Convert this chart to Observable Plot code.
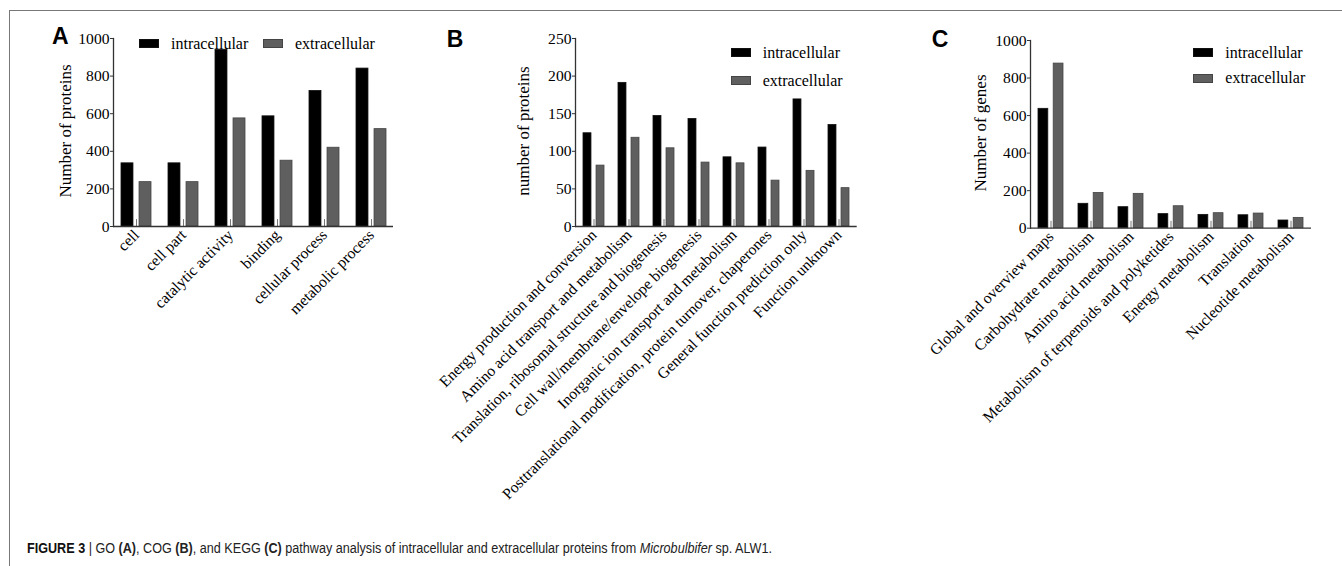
<!DOCTYPE html>
<html><head><meta charset="utf-8">
<script src="https://cdn.jsdelivr.net/npm/d3@7"></script>
<script src="https://cdn.jsdelivr.net/npm/@observablehq/plot@0.6"></script>
<style>
html,body{margin:0;padding:0;background:#fff;}
#root{position:relative;width:1342px;height:566px;overflow:hidden;font-family:"Liberation Serif","Times New Roman",serif;color:#000;}
.frame{position:absolute;left:9px;top:10px;right:-2px;bottom:-2px;border-top:1px solid #777;border-left:1px solid #777;pointer-events:none;}
.panel{position:absolute;top:0;}
.plabel{position:absolute;font:bold 23px "Liberation Sans",Arial,sans-serif;line-height:1;}
.ylab{position:absolute;font-size:17px;line-height:1;white-space:nowrap;transform:translate(-50%,-50%) rotate(-90deg);}
.leg{position:absolute;font-size:16px;line-height:16px;height:16px;white-space:nowrap;display:flex;align-items:center;}
.sw{display:inline-block;width:20px;height:9px;margin-right:12px;box-sizing:border-box;}
.caption{position:absolute;left:27px;top:541px;font:14px "Liberation Sans",Arial,sans-serif;line-height:1;white-space:nowrap;color:#222;transform-origin:0 0;}
</style>
</head><body>
<div id="root"></div>
<script>
// ---- data ----
const seriesNames = ["intracellular", "extracellular"];

const goCategories = ["cell", "cell part", "catalytic activity", "binding", "cellular process", "metabolic process"];
const goIntra = [336, 336, 940, 586, 721, 840];
const goExtra = [236, 236, 575, 350, 419, 518];
const goTicks = [0, 200, 400, 600, 800, 1000];

const cogCategories = [
  "Energy production and conversion",
  "Amino acid transport and metabolism",
  "Translation, ribosomal structure and biogenesis",
  "Cell wall/membrane/envelope biogenesis",
  "Inorganic ion transport and metabolism",
  "Posttranslational modification, protein turnover, chaperones",
  "General function prediction only",
  "Function unknown"
];
const cogIntra = [124, 191, 147, 143, 92, 105, 169, 135];
const cogExtra = [81, 118, 104, 85, 84, 61, 74, 51];
const cogTicks = [0, 50, 100, 150, 200, 250];

const keggCategories = [
  "Global and overview maps",
  "Carbohydrate metabolism",
  "Amino acid metabolism",
  "Metabolism of terpenoids and polyketides",
  "Energy metabolism",
  "Translation",
  "Nucleotide metabolism"
];
const keggIntra = [636, 130, 112, 75, 71, 69, 41];
const keggExtra = [877, 188, 183, 117, 80, 78, 55];
const keggTicks = [0, 200, 400, 600, 800, 1000];

const colors = {intracellular: "#000000", extracellular: "#5f5f5f"};

// ---- layout ----
const root = document.getElementById("root");
const tickShape = {draw(ctx, l) { ctx.moveTo(0, 0); ctx.lineTo(0, -l); }};

function makePanel(cfg) {
  const rows = cfg.cats.map((c, i) => ({cat: c, intra: cfg.intra[i], extra: cfg.extra[i]}));
  const n = cfg.cats.length;
  const step = (cfg.width - cfg.mL - cfg.mR) / (n - cfg.pIn + 2 * cfg.pOut);
  const bw = step * (1 - cfg.pIn);
  const inset = bw * 0.6;
  const svg = Plot.plot({
    width: cfg.width, height: cfg.height,
    marginLeft: cfg.mL, marginRight: cfg.mR, marginTop: cfg.mT, marginBottom: cfg.mB,
    style: {fontFamily: "Liberation Serif, Times New Roman, serif", fontSize: "15.6px", background: "transparent", color: "#000", overflow: "visible"},
    x: {type: "band", domain: cfg.cats, paddingInner: cfg.pIn, paddingOuter: cfg.pOut, axis: null},
    y: {domain: [0, cfg.yMax], axis: null},
    marks: [
      Plot.barY(rows, {x: "cat", y: "intra", fill: colors.intracellular, stroke: "#111", strokeWidth: 0.8, insetRight: inset}),
      Plot.barY(rows, {x: "cat", y: "extra", fill: colors.extracellular, stroke: "#444", strokeWidth: 0.8, insetLeft: inset}),
      Plot.vector(cfg.cats, {x: d => d, y: () => 0, length: 7, anchor: "start", stroke: "#777", strokeWidth: 1, shape: tickShape}),
      Plot.ruleY([0], {stroke: "#333", strokeWidth: 1.3}),
      Plot.frame({anchor: "left", stroke: "#333", strokeWidth: 1.3}),
      Plot.axisY({ticks: cfg.yTicks, tickSize: 3, tickPadding: 1, label: null, fontSize: 15.6, stroke: "#333", tickFormat: d => String(d)}),
      Plot.axisX({tickSize: 0, tickRotate: -45, tickPadding: 6, label: null, fontSize: 15.6})
    ]
  });
  const wrap = document.createElement("div");
  wrap.className = "panel";
  wrap.style.left = cfg.left + "px";
  wrap.appendChild(svg);
  root.appendChild(wrap);

  const pl = document.createElement("div");
  pl.className = "plabel"; pl.textContent = cfg.label;
  pl.style.left = cfg.labelPos[0] + "px"; pl.style.top = cfg.labelPos[1] + "px";
  root.appendChild(pl);

  const yl = document.createElement("div");
  yl.className = "ylab"; yl.textContent = cfg.ylabel;
  yl.style.left = cfg.ylabPos[0] + "px"; yl.style.top = cfg.ylabPos[1] + "px";
  root.appendChild(yl);

  seriesNames.forEach((s, i) => {
    const lg = document.createElement("div");
    lg.className = "leg";
    lg.style.left = cfg.legend[i][0] + "px";
    lg.style.top = (cfg.legend[i][1] - 8) + "px";
    const sw = document.createElement("span");
    sw.className = "sw"; sw.style.background = colors[s];
    sw.style.border = "1px solid " + (i === 0 ? "#111" : "#444");
    lg.appendChild(sw);
    lg.appendChild(document.createTextNode(s));
    root.appendChild(lg);
  });
}

makePanel({cats: goCategories, intra: goIntra, extra: goExtra, yMax: 1000, yTicks: goTicks,
  left: 0, width: 440, height: 500, mL: 113, mR: 47, mT: 38, mB: 274, pIn: 0.37, pOut: 0.12,
  label: "A", labelPos: [52, 25], ylabel: "Number of proteins", ylabPos: [64.5, 130.7],
  legend: [[139, 43.5], [263, 43.5]]});

makePanel({cats: cogCategories, intra: cogIntra, extra: cogExtra, yMax: 250, yTicks: cogTicks,
  left: 440, width: 440, height: 500, mL: 135, mR: 23.3, mT: 38, mB: 274, pIn: 0.39, pOut: 0.15,
  label: "B", labelPos: [446.7, 27.7], ylabel: "number of proteins", ylabPos: [523, 131],
  legend: [[730.7, 52.5], [730.7, 80.8]]});

makePanel({cats: keggCategories, intra: keggIntra, extra: keggExtra, yMax: 1000, yTicks: keggTicks,
  left: 900, width: 442, height: 500, mL: 130, mR: 31, mT: 40, mB: 272.3, pIn: 0.38, pOut: 0.13,
  label: "C", labelPos: [931.7, 28], ylabel: "Number of genes", ylabPos: [979.5, 132.5],
  legend: [[1193.3, 52.5], [1193.3, 78]]});

// frame lines
const fr = document.createElement("div"); fr.className = "frame"; root.appendChild(fr);

// caption
const cap = document.createElement("div");
cap.className = "caption";
cap.innerHTML = '<b style="color:#111">FIGURE 3</b> | GO <b>(A)</b>, COG <b>(B)</b>, and KEGG <b>(C)</b> pathway analysis of intracellular and extracellular proteins from <i>Microbulbifer</i> sp. ALW1.';
root.appendChild(cap);
const w = cap.getBoundingClientRect().width;
cap.style.transform = "scaleX(" + (745 / w) + ")";
</script>
</body></html>
